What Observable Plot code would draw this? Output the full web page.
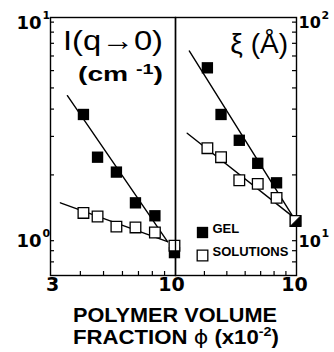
<!DOCTYPE html>
<html>
<head>
<meta charset="utf-8">
<script src="https://cdn.jsdelivr.net/npm/d3@7"></script>
<script src="https://cdn.jsdelivr.net/npm/@observablehq/plot@0.6"></script>
<style>
  html, body { margin: 0; padding: 0; background: #fff; }
  #chart { position: relative; width: 334px; height: 352px; overflow: hidden; }
  #chart svg { position: absolute; top: 0; overflow: visible; }
</style>
</head>
<body>
<div id="chart"></div>
<script>
// ---- data ----
const phi = [4.12, 4.72, 5.66, 6.8, 8.2, 9.9];                 // polymer volume fraction (x10^-2)
const intensityGel = [3.78, 2.41, 2.06, 1.49, 1.30, 0.882];   // I(q->0), cm^-1
const intensitySolutions = [1.34, 1.29, 1.16, 1.15, 1.09, 0.949];
const xiGel = [61.8, 37.8, 28.8, 22.6, 18.4, 12.3];           // xi, Angstrom
const xiSolutions = [26.5, 24.1, 18.9, 18.2, 15.7, 12.3];

// fitted power-law lines (end points)
const intensityGelFitPhi = [3.53, 9.26];
const intensityGelFitValue = [4.61, 0.99];
const intensitySolFitPhi = [3.30, 9.26];
const intensitySolFitValue = [1.49, 0.99];
const xiGelFitPhi = [3.44, 9.67];
const xiGelFitValue = [73.8, 12.85];
const xiSolFitPhi = [3.37, 9.67];
const xiSolFitValue = [31.0, 12.85];

// ticks
const xMinorTicks = [4, 5, 6, 7, 8, 9];
const leftXLabels = [{v: 3, label: "3"}, {v: 10, label: "10"}];
const rightXLabels = [{v: 10, label: "10"}];
const leftYTicks = [0.8, 0.9, 1, 2, 3, 4, 5, 6, 7, 8, 9, 10];
const rightYTicks = [8, 9, 10, 20, 30, 40, 50, 60, 70, 80, 90, 100];
const leftYLabels = [{v: 1, exp: "0"}, {v: 10, exp: "1"}];
const rightYLabels = [{v: 10, exp: "1"}, {v: 100, exp: "2"}];

// legend
const legendItems = ["GEL", "SOLUTIONS"];

// ---- build tables ----
const pts = (xs, ys) => xs.map((p, i) => ({phi: p, value: ys[i]}));
const leftGel = pts(phi, intensityGel);
const leftSol = pts(phi, intensitySolutions);
const rightGel = pts(phi, xiGel);
const rightSol = pts(phi, xiSolutions);
const leftGelFit = pts(intensityGelFitPhi, intensityGelFitValue);
const leftSolFit = pts(intensitySolFitPhi, intensitySolFitValue);
const rightGelFit = pts(xiGelFitPhi, xiGelFitValue);
const rightSolFit = pts(xiSolFitPhi, xiSolFitValue);

// lower-right half of a square (for coincident points)
const halfSquare = {
  draw(context, size) {
    const s = Math.sqrt(size) / 2;
    context.moveTo(s, -s);
    context.lineTo(s, s);
    context.lineTo(-s, s);
    context.closePath();
  }
};

const numFont = "DejaVu Sans, sans-serif";
const sansFont = "Liberation Sans, Arial, sans-serif";
const H = 352, frameTop = 17, frameBottom = 275;
const frameH = frameBottom - frameTop;
const R_FILL = 6.4, R_OPEN = 6.0;

const dataMarks = (gel, sol, gelFit, solFit) => [
  Plot.line(gelFit, {x: "phi", y: "value", stroke: "black", strokeWidth: 1.4}),
  Plot.line(solFit, {x: "phi", y: "value", stroke: "black", strokeWidth: 1.4}),
  Plot.dot(gel, {x: "phi", y: "value", symbol: "square", r: R_FILL, fill: "black", stroke: "none"}),
  Plot.dot(sol, {x: "phi", y: "value", symbol: "square", r: R_OPEN, fill: "white", stroke: "black", strokeWidth: 1.3})
];

// ---- left panel: I(q->0) ----
const leftW = 176, leftML = 50, leftMR = 1;
const leftFrameW = leftW - leftML - leftMR;
const leftPlot = Plot.plot({
  width: leftW, height: H,
  marginLeft: leftML, marginRight: leftMR, marginTop: frameTop, marginBottom: H - frameBottom,
  style: {background: "transparent", overflow: "visible"},
  x: {type: "log", domain: [3, 10], axis: null},
  y: {type: "log", domain: [0.693, 10.5], axis: null},
  marks: [
    Plot.ruleY(leftYTicks, {y: d => d, insetRight: leftFrameW - 4, stroke: "black", strokeWidth: 1.2}),
    Plot.ruleX(xMinorTicks, {x: d => d, insetTop: frameH - 4, stroke: "black", strokeWidth: 1.2}),
    Plot.frame({stroke: "black", strokeWidth: 1.4}),
    ...dataMarks(leftGel, leftSol, leftGelFit, leftSolFit),
    Plot.text(leftXLabels.slice(0, 1), {x: "v", text: "label", frameAnchor: "bottom", dy: 15, dx: 2,
      fontFamily: numFont, fontWeight: "bold", fontSize: 19, fill: "black"}),
    Plot.text(leftXLabels.slice(1), {x: "v", text: "label", frameAnchor: "bottom", dy: 15, dx: -4,
      fontFamily: numFont, fontWeight: "bold", fontSize: 19, fill: "black"}),
    Plot.text(leftYLabels, {y: "v", text: () => "10", frameAnchor: "left", dx: -9, dy: 1,
      textAnchor: "end", fontFamily: numFont, fontWeight: "bold", fontSize: 18, fill: "black"}),
    Plot.text(leftYLabels, {y: "v", text: "exp", frameAnchor: "left", dx: -8, dy: -7,
      textAnchor: "start", fontFamily: numFont, fontWeight: "bold", fontSize: 11, fill: "black"})
  ]
});

// ---- right panel: xi ----
const rightX0 = 175;
const rightW = 334 - rightX0, rightML = 0, rightMR = rightW - 121;
const rightFrameW = rightW - rightML - rightMR;
const rightPlot = Plot.plot({
  width: rightW, height: H,
  marginLeft: rightML, marginRight: rightMR, marginTop: frameTop, marginBottom: H - frameBottom,
  style: {background: "transparent", overflow: "visible"},
  x: {type: "log", domain: [3, 10], axis: null},
  y: {type: "log", domain: [6.93, 105], axis: null},
  marks: [
    Plot.ruleY(rightYTicks, {y: d => d, insetLeft: rightFrameW - 4, stroke: "black", strokeWidth: 1.2}),
    Plot.ruleX(xMinorTicks, {x: d => d, insetTop: frameH - 4, stroke: "black", strokeWidth: 1.2}),
    Plot.frame({stroke: "black", strokeWidth: 1.4}),
    ...dataMarks(rightGel, rightSol, rightGelFit, rightSolFit),
    Plot.dot(rightGel.slice(-1), {x: "phi", y: "value", symbol: halfSquare, r: R_OPEN, fill: "black", stroke: "black", strokeWidth: 1}),
    Plot.text(rightXLabels, {x: "v", text: "label", frameAnchor: "bottom", dy: 15, dx: -2,
      fontFamily: numFont, fontWeight: "bold", fontSize: 19, fill: "black"}),
    Plot.text(rightYLabels, {y: "v", text: () => "10", frameAnchor: "right", dx: 2, dy: 1,
      textAnchor: "start", fontFamily: numFont, fontWeight: "bold", fontSize: 16, fill: "black"}),
    Plot.text(rightYLabels, {y: "v", text: "exp", frameAnchor: "right", dx: 25, dy: -7,
      textAnchor: "start", fontFamily: numFont, fontWeight: "bold", fontSize: 11, fill: "black"}),
    // legend
    Plot.dot([legendItems[0]], {frameAnchor: "bottom-left", dx: 27, dy: -43, symbol: "square", r: R_FILL, fill: "black", stroke: "none"}),
    Plot.dot([legendItems[1]], {frameAnchor: "bottom-left", dx: 27, dy: -20, symbol: "square", r: R_OPEN, fill: "white", stroke: "black", strokeWidth: 1.3}),
    Plot.text([legendItems[0]], {text: d => d, frameAnchor: "bottom-left", dx: 37, dy: -43, textAnchor: "start",
      fontFamily: sansFont, fontWeight: "bold", fontSize: 13, fill: "black"}),
    Plot.text([legendItems[1]], {text: d => d, frameAnchor: "bottom-left", dx: 37, dy: -20, textAnchor: "start",
      fontFamily: sansFont, fontWeight: "bold", fontSize: 13, fill: "black"})
  ]
});

const chart = document.getElementById("chart");
leftPlot.style.left = "0px";
rightPlot.style.left = rightX0 + "px";
chart.appendChild(leftPlot);
chart.appendChild(rightPlot);

// ---- titles & axis title (real text) ----
const ns = "http://www.w3.org/2000/svg";
const overlay = document.createElementNS(ns, "svg");
overlay.setAttribute("width", 334);
overlay.setAttribute("height", 352);
overlay.style.left = "0px";
overlay.style.pointerEvents = "none";
overlay.innerHTML = `
  <g font-family="${sansFont}" fill="black">
    <text x="63" y="50" font-size="28" textLength="100" lengthAdjust="spacingAndGlyphs">I(q→0)</text>
    <text x="78" y="81" font-size="20" font-weight="bold" textLength="85" lengthAdjust="spacingAndGlyphs">(cm <tspan font-size="14" dy="-7">-1</tspan><tspan dy="7">)</tspan></text>
    <text x="288" y="53" font-size="28" text-anchor="end">ξ (Å)</text>
    <text x="175" y="322" font-size="20" font-weight="bold" text-anchor="middle" textLength="204" lengthAdjust="spacingAndGlyphs">POLYMER VOLUME</text>
    <text x="176" y="344" font-size="20" font-weight="bold" text-anchor="middle" textLength="206" lengthAdjust="spacingAndGlyphs">FRACTION <tspan font-weight="normal" font-family="DejaVu Sans, sans-serif">ϕ</tspan>  (x10<tspan font-size="13" dy="-8">-2</tspan><tspan dy="8">)</tspan></text>
  </g>`;
chart.appendChild(overlay);
</script>
</body>
</html>
